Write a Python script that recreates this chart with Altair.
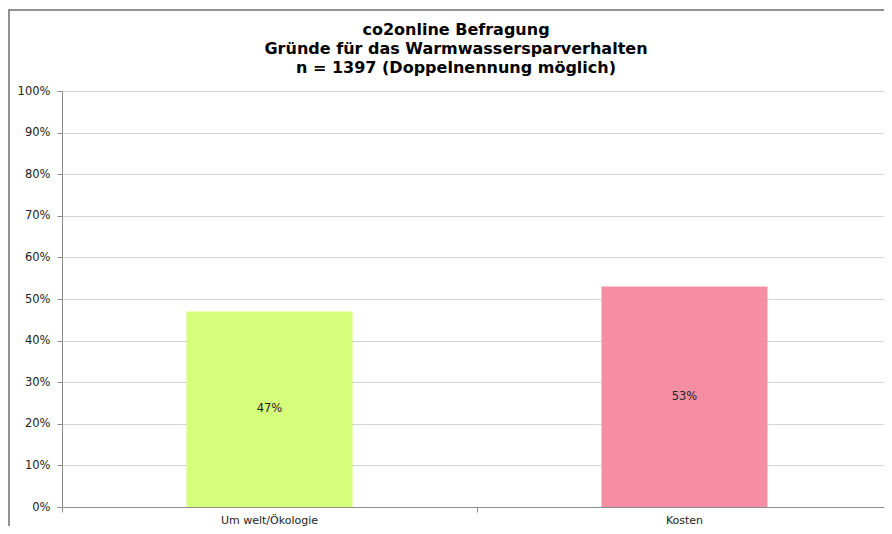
import altair as alt
import pandas as pd

categories = ["Um welt/Ökologie", "Kosten"]
values = [0.47, 0.53]
colors = ["#d5fe7b", "#f58ea2"]
title_lines = ["co2online Befragung", "Gründe für das Warmwassersparverhalten", "n = 1397 (Doppelnennung möglich)"]

df = pd.DataFrame({"cat": categories, "val": values, "color": colors})
df["half"] = df["val"] / 2
tdf = pd.DataFrame({"line": ["|".join(title_lines)]})

W = 822
H = 416

x = alt.X("cat:N", sort=categories, title=None,
          scale=alt.Scale(paddingInner=0, paddingOuter=0, range=[0, 830]),
          axis=alt.Axis(labelAngle=0, labelFont="DejaVu Sans", labelFontSize=11,
                        labelColor="#222222", domainColor="#8c8c8c", tickColor="#8c8c8c",
                        tickSize=5, bandPosition=0, labelPadding=2))

bars = alt.Chart(df).mark_bar(width=alt.RelativeBandSize(0.4)).encode(
    x=x,
    y=alt.Y("val:Q", title=None, scale=alt.Scale(domain=[0, 1]),
            axis=alt.Axis(format=".0%", values=[i / 10 for i in range(11)],
                          labelFont="DejaVu Sans", labelFontSize=11.5, labelColor="#222222",
                          domainColor="#8c8c8c", tickColor="#8c8c8c", tickSize=5,
                          labelPadding=7, gridColor="#d4d4d4")),
    color=alt.Color("color:N", scale=None),
)

labels = alt.Chart(df).mark_text(font="DejaVu Sans", fontSize=11.5, color="#222222").encode(
    x=alt.X("cat:N", sort=categories),
    y=alt.Y("half:Q"),
    text=alt.Text("val:Q", format=".0%"),
)

frame = alt.Chart(df).mark_rect(fill=None, stroke="#8a8a8a", strokeWidth=1.5, clip=False).encode(
    x=alt.value(-53), x2=alt.value(900), y=alt.value(-81), y2=alt.value(500)
)

title = alt.Chart(tdf).mark_text(font="DejaVu Sans", fontSize=16, fontWeight="bold",
                                 color="#000000", baseline="middle", align="center",
                                 lineBreak="|", lineHeight=19).encode(
    x=alt.value(394),
    y=alt.value(-61),
    text="line:N",
)

chart = alt.layer(frame, bars, labels, title).properties(
    width=W, height=H,
    padding={"left": 54, "top": 83, "right": 0, "bottom": 19},
    autosize=alt.AutoSizeParams(type="none"),
).configure_view(stroke=None)

chart.save("out.html", embed_options={"renderer": "svg", "actions": False})
